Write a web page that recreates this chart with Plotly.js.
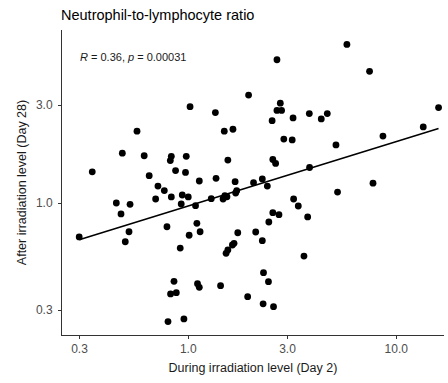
<!DOCTYPE html>
<html>
<head>
<meta charset="utf-8">
<script src="https://cdn.plot.ly/plotly-3.0.1.min.js"></script>
<style>html,body{margin:0;padding:0;background:#fff;}#chart{width:448px;height:383px;}</style>
</head>
<body>
<div id="chart"></div>
<script>
// During irradiation level (Day 2)
const day2 = [1.95,1.02,1.35,0.567,1.49,1.64,0.482,0.614,0.829,0.820,0.978,1.55,0.3455,0.649,0.869,0.97,1.13,1.36,1.68,2.06,0.715,
  5.79,2.67,7.44,2.77,2.67,2.81,2.53,3.19,3.82,4.36,4.66,15.97,13.48,8.63,2.88,3.16,5.13,2.55,2.63,3.83,2.27,2.40,7.73,
  0.767,0.451,0.525,0.475,0.697,0.829,0.936,1.0,0.925,1.084,1.29,1.47,1.50,1.535,1.69,1.71,
  0.299,0.519,0.498,0.790,1.10,1.14,1.01,0.915,1.73,2.11,1.52,1.55,1.63,1.66,
  0.854,0.822,0.876,1.108,1.13,1.43,1.93,0.799,0.953,
  5.22,3.21,3.38,3.75,2.55,2.73,2.44,2.27,3.60,2.30,2.43,2.29,2.57];
// After irradiation level (Day 28)
const day28 = [3.36,2.95,2.76,2.24,2.24,2.29,1.75,1.70,1.69,1.61,1.69,1.62,1.42,1.36,1.44,1.41,1.28,1.32,1.27,1.256,1.21,
  5.94,5.00,4.39,3.07,2.83,2.83,2.52,2.60,2.73,2.57,2.73,2.92,2.35,2.12,2.05,2.03,1.92,1.63,1.56,1.49,1.31,1.21,1.25,
  1.15,1.0,0.985,0.884,1.046,1.07,1.094,1.07,0.989,0.97,1.05,1.046,1.085,1.073,1.119,1.148,
  0.683,0.724,0.647,0.766,0.796,0.724,0.696,0.603,0.716,0.722,0.568,0.590,0.624,0.636,
  0.415,0.360,0.365,0.404,0.388,0.395,0.349,0.264,0.272,
  1.13,1.046,0.967,0.855,0.897,0.877,0.808,0.655,0.551,0.457,0.413,0.322,0.312];
const xTickVals = [0.3, 1, 3, 10];
const xTickText = ["0.3", "1.0", "3.0", "10.0"];
const yTickVals = [0.3, 1, 3];
const yTickText = ["0.3", "1.0", "3.0"];
const statLabel = "<i>R</i> = 0.36, <i>p</i> = 0.00031";

// least-squares fit in log-log space
const lx = day2.map(v => Math.log10(v)), ly = day28.map(v => Math.log10(v));
const n = lx.length;
const mx = lx.reduce((a,b)=>a+b,0)/n, my = ly.reduce((a,b)=>a+b,0)/n;
let sxy = 0, sxx = 0;
for (let i = 0; i < n; i++) { sxy += (lx[i]-mx)*(ly[i]-my); sxx += (lx[i]-mx)**2; }
const slope = sxy/sxx, icpt = my - slope*mx;
const xmin = Math.min(...lx), xmax = Math.max(...lx);
const fitX = [], fitY = [];
for (let k = 0; k <= 40; k++) {
  const t = xmin + (xmax - xmin)*k/40;
  fitX.push(Math.pow(10, t)); fitY.push(Math.pow(10, icpt + slope*t));
}

const ff = "Liberation Sans, Arial, sans-serif";
const data = [
  {x: day2, y: day28, type: "scatter", mode: "markers",
   marker: {color: "#000", size: 6.8}, hoverinfo: "skip"},
  {x: fitX, y: fitY, type: "scatter", mode: "lines",
   line: {color: "#000", width: 1.6}, hoverinfo: "skip"}
];
const axisCommon = {
  type: "log", showgrid: false, zeroline: false, showline: true,
  linecolor: "#333", linewidth: 1, ticks: "outside", ticklen: 3, tickcolor: "#333",
  tickfont: {family: ff, size: 12, color: "#4d4d4d"}, mirror: false
};
const layout = {
  width: 448, height: 383,
  margin: {l: 62, r: 4, t: 30, b: 48},
  paper_bgcolor: "#fff", plot_bgcolor: "#fff",
  showlegend: false,
  font: {family: ff, color: "#000"},
  title: {text: "Neutrophil-to-lymphocyte ratio", x: 61/448, xanchor: "left", xref: "container",
          y: 1 - 15/383, yanchor: "middle", yref: "container",
          font: {family: ff, size: 14.5, color: "#000"}},
  xaxis: Object.assign({}, axisCommon, {
    range: [-0.607, 1.2295], tickvals: xTickVals, ticktext: xTickText,
    title: {text: "During irradiation level (Day 2)", standoff: 7,
            font: {family: ff, size: 12.5, color: "#1a1a1a"}}
  }),
  yaxis: Object.assign({}, axisCommon, {
    range: [-0.644, 0.844], tickvals: yTickVals, ticktext: yTickText,
    ticklabelstandoff: 3,
    title: {text: "After irradiation level (Day 28)", standoff: 6,
            font: {family: ff, size: 12.5, color: "#1a1a1a"}}
  }),
  annotations: [{
    text: statLabel, xref: "paper", yref: "paper", x: 16/382, y: 1 - 27/305,
    xanchor: "left", yanchor: "middle", showarrow: false,
    font: {family: ff, size: 11, color: "#1a1a1a"}
  }]
};
Plotly.newPlot("chart", data, layout, {displayModeBar: false, staticPlot: true});
</script>
</body>
</html>
